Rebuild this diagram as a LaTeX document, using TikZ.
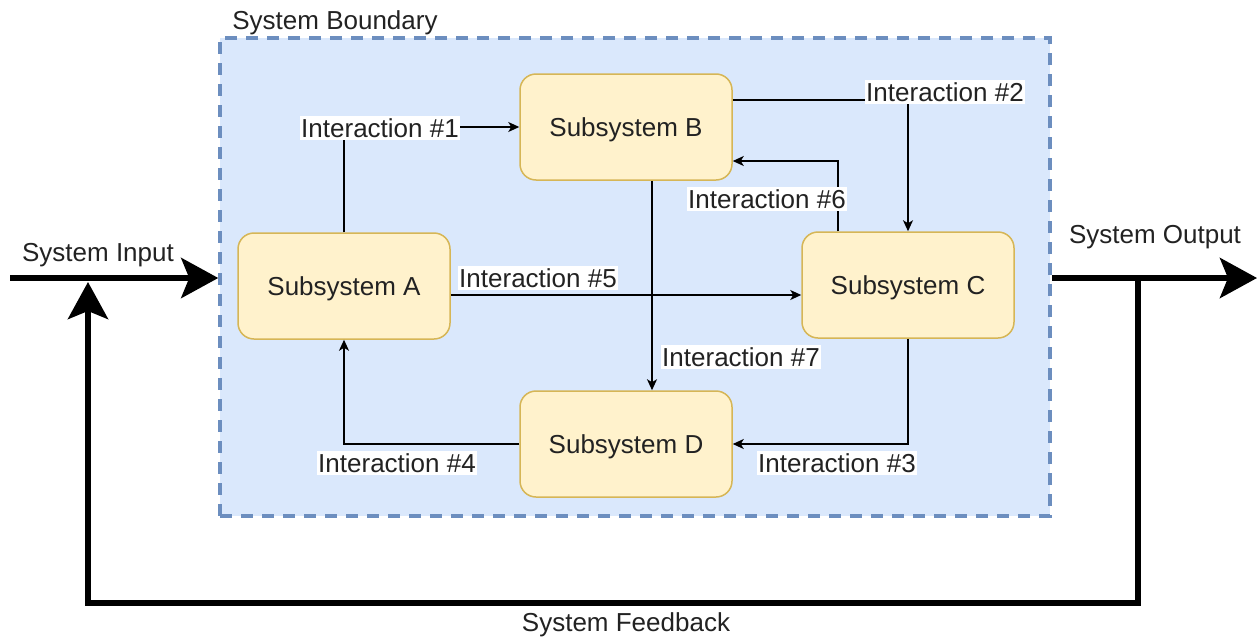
\documentclass[tikz,border=0pt]{standalone}
\usepackage{fontspec}
\setmainfont{Liberation Sans}
\usetikzlibrary{arrows.meta,calc}
\definecolor{bndfill}{HTML}{DAE8FC}
\definecolor{bnddraw}{HTML}{6C8EBF}
\definecolor{subfill}{HTML}{FFF2CC}
\definecolor{subdraw}{HTML}{D6B656}
\definecolor{txt}{HTML}{222222}
\tikzset{
  every node/.style={font=\fontsize{26}{30}\selectfont, text=txt},
  boundary/.style={draw=bnddraw, fill=bndfill, line width=3.5pt,
    dash pattern=on 12pt off 9pt, minimum width=830pt, minimum height=478pt, inner sep=0pt},
  subbox/.style={draw=subdraw, fill=subfill, line width=1.5pt, rounded corners=16pt,
    minimum width=212pt, minimum height=106pt, inner sep=0pt, text height=19.5pt, text depth=0pt},
  link/.style={line width=1.5pt, -{Stealth[length=11pt, width=10pt, inset=3pt]}},
  flow/.style={line width=6pt, -{Stealth[length=37pt, width=40pt, inset=8pt]}},
  tag/.style={fill=white, inner xsep=1pt, inner ysep=2pt},
  plain/.style={inner sep=1pt}
}
\begin{document}
\begin{tikzpicture}[x=1pt, y=-1pt]
\useasboundingbox (0,0) rectangle (1257,637);

% system boundary
\node[boundary] (SB) at (635,277) {};
\node[plain] (sblabel) at (335,23) {System Boundary};

% subsystems
\node[subbox] (A) at (344,286) {Subsystem A};
\node[subbox] (B) at (626,127) {Subsystem B};
\node[subbox] (C) at (908,285) {Subsystem C};
\node[subbox] (D) at (626,444) {Subsystem D};

% interactions between subsystems
\draw[link] (A.north) |- (B.west);
\draw[link] ($(B.east)+(0,-27)$) -| (C.north);
\draw[link] ($(C.north)+(-70,0)$) |- ($(B.east)+(0,34)$);
\draw[link] (C.south) |- (D.east);
\draw[link] (D.west) -| (A.south);
\draw[link] ($(A.east)+(0,9)$) -- ($(C.west)+(0,10)$);
\node[tag] (l5) at (538,278) {Interaction \#5};
\draw[link] ($(B.south)+(26,0)$) -- ($(D.north)+(26,0)$);

\node[tag] (l1) at (380,128) {Interaction \#1};
\node[tag] (l2) at (945,92) {Interaction \#2};
\node[tag] (l6) at (767,199) {Interaction \#6};
\node[tag] (l7) at (741,357) {Interaction \#7};
\node[tag] (l3) at (837,463) {Interaction \#3};
\node[tag] (l4) at (397,463) {Interaction \#4};

% system input, output and feedback
\coordinate (in) at (10,278);
\coordinate (out) at (1257,278);
\coordinate (fbstart) at (1138,278);
\coordinate (fbend) at (88,282);
\draw[flow] (in) -- (SB.west |- in);
\draw[flow] (SB.east |- out) -- (out);
\draw[flow] (fbstart) -- (fbstart |- 0,603) -- (fbend |- 0,603) -- (fbend);

\node[plain] (inlabel) at (98,255) {System Input};
\node[plain] (outlabel) at (1155,237) {System Output};
\node[tag] (fblabel) at (626,625) {System Feedback};
\end{tikzpicture}
\end{document}
